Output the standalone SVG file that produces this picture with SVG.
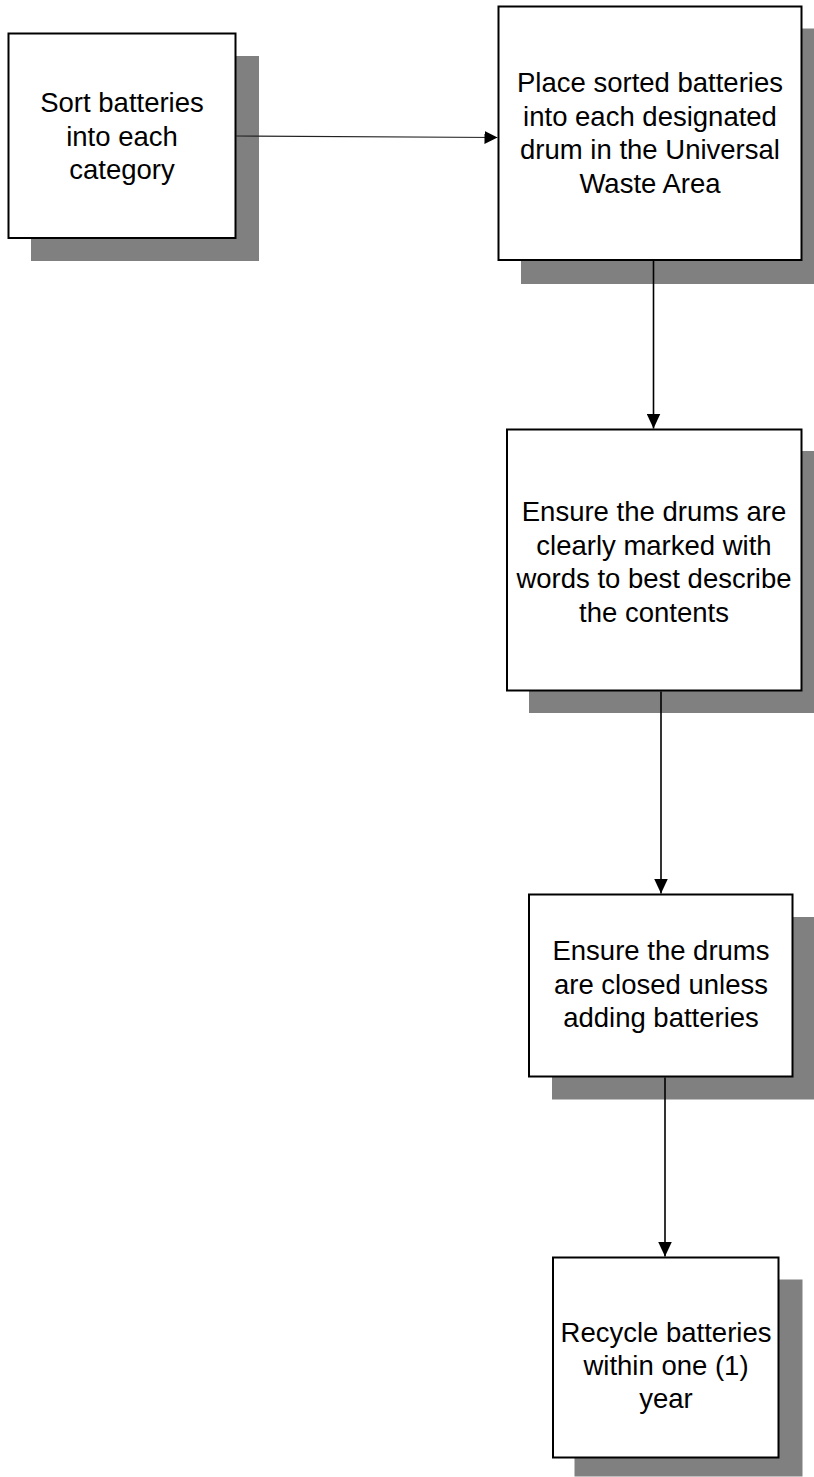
<svg xmlns="http://www.w3.org/2000/svg" width="814" height="1477" viewBox="0 0 814 1477">
  <style>
    .shadow { fill: #808080; stroke: none; }
    .box { fill: #ffffff; stroke: #000000; stroke-width: 2; }
    .label { font-family: "Liberation Sans", Arial, sans-serif; font-size: 27.5px; fill: #000000; text-anchor: middle; }
    .link { fill: none; stroke: #000000; stroke-width: 1.6; }
    .link-thin { fill: none; stroke: #222222; stroke-width: 1.1; }
  </style>
  <defs>
    <marker id="arrow" markerUnits="userSpaceOnUse" markerWidth="15" markerHeight="14" refX="15" refY="7" orient="auto">
      <path d="M0,0 L15,7 L0,14 Z" fill="#000000"/>
    </marker>
    <marker id="arrow-small" markerUnits="userSpaceOnUse" markerWidth="13" markerHeight="13" refX="13" refY="6.5" orient="auto">
      <path d="M0,0 L13,6.5 L0,13 Z" fill="#000000"/>
    </marker>
  </defs>
  <rect width="814" height="1477" fill="#ffffff"/>

  <g id="node-sort">
    <rect class="shadow" x="31" y="56" width="228" height="205"/>
    <rect class="box" x="8.5" y="33.5" width="227" height="204.5"/>
    <text class="label" x="122" y="112">Sort batteries</text>
    <text class="label" x="122" y="145.5">into each</text>
    <text class="label" x="122" y="179">category</text>
  </g>

  <g id="node-place">
    <rect class="shadow" x="521" y="28.5" width="303" height="255.5"/>
    <rect class="box" x="498.5" y="6.5" width="303" height="253.5"/>
    <text class="label" x="650" y="92">Place sorted batteries</text>
    <text class="label" x="650" y="125.5">into each designated</text>
    <text class="label" x="650" y="159">drum in the Universal</text>
    <text class="label" x="650" y="192.5">Waste Area</text>
  </g>

  <g id="node-mark">
    <rect class="shadow" x="529" y="451" width="300" height="262"/>
    <rect class="box" x="507" y="429.5" width="294.5" height="261"/>
    <text class="label" x="654" y="521">Ensure the drums are</text>
    <text class="label" x="654" y="554.5">clearly marked with</text>
    <text class="label" x="654" y="588">words to best describe</text>
    <text class="label" x="654" y="621.5">the contents</text>
  </g>

  <g id="node-closed">
    <rect class="shadow" x="552" y="917" width="263" height="182.5"/>
    <rect class="box" x="529" y="894.5" width="263.5" height="182"/>
    <text class="label" x="661" y="960">Ensure the drums</text>
    <text class="label" x="661" y="993.5">are closed unless</text>
    <text class="label" x="661" y="1027">adding batteries</text>
  </g>

  <g id="node-recycle">
    <rect class="shadow" x="574.5" y="1279.5" width="228" height="197"/>
    <rect class="box" x="553" y="1257.5" width="225.5" height="200"/>
    <text class="label" x="666" y="1341.5">Recycle batteries</text>
    <text class="label" x="666" y="1375">within one (1)</text>
    <text class="label" x="666" y="1408">year</text>
  </g>

  <g id="connectors">
    <line class="link-thin" x1="236" y1="136" x2="497.5" y2="137.5" marker-end="url(#arrow-small)"/>
    <line class="link" x1="653.5" y1="261" x2="653.5" y2="428.5" marker-end="url(#arrow)"/>
    <line class="link" x1="661" y1="691.5" x2="661" y2="893.5" marker-end="url(#arrow)"/>
    <line class="link" x1="665" y1="1077.5" x2="665" y2="1256.5" marker-end="url(#arrow)"/>
  </g>
</svg>
